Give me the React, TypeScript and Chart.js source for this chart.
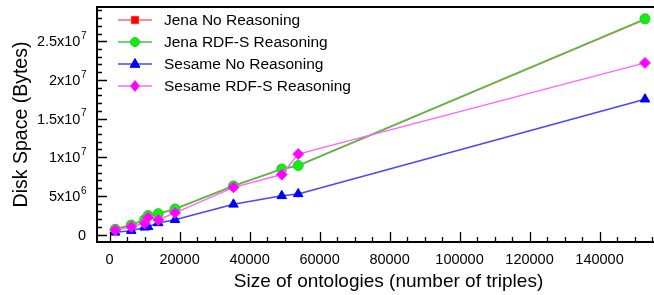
import { useEffect, useRef } from "react";
import { Chart, registerables } from "chart.js";

Chart.register(...registerables);

// ---- data ----
const xTriples = [1600, 6200, 10000, 11000, 13900, 18700, 35400, 49200, 53900, 153000];
const jenaNoReasoning = [0.7e6, 1.25e6, 1.95e6, 2.4e6, 2.65e6, 3.3e6, 6.3e6, 8.45e6, 8.9e6, 27.8e6];
const jenaRdfsReasoning = [0.68e6, 1.23e6, 1.9e6, 2.45e6, 2.7e6, 3.3e6, 6.28e6, 8.48e6, 8.92e6, 27.9e6];
const sesameNoReasoning = [0.28e6, 0.5e6, 0.93e6, 1.0e6, 1.5e6, 1.9e6, 3.9e6, 5.0e6, 5.25e6, 17.5e6];
const sesameRdfsReasoning = [0.58e6, 1.0e6, 1.45e6, 2.2e6, 1.9e6, 2.8e6, 6.1e6, 7.75e6, 10.4e6, 22.2e6];

const seriesNames = ["Jena No Reasoning", "Jena RDF-S Reasoning", "Sesame No Reasoning", "Sesame RDF-S Reasoning"];

const xTickValues = [0, 20000, 40000, 60000, 80000, 100000, 120000, 140000];
const yTickValues = [0, 5e6, 1e7, 1.5e7, 2e7, 2.5e7];
const yTickBases = ["0", "5x10", "1x10", "1.5x10", "2x10", "2.5x10"];
const yTickExps = ["", "6", "7", "7", "7", "7"];

const xTitle = "Size of ontologies (number of triples)";
const yTitle = "Disk Space (Bytes)";

const X_MIN = -3600;
const X_MAX = 163000;
const Y_MIN = -0.97e6;
const Y_MAX = 29.43e6;

const FONT = "'Liberation Sans', Arial, Helvetica, sans-serif";

const styles = [
  { line: "#ff6a6a", fill: "#ff0000", edge: "#ff3030", shape: "rect", r: 4.5 },
  { line: "#3ec83e", fill: "#11ee11", edge: "#22cc22", shape: "circle", r: 5 },
  { line: "#4646ff", fill: "#0000ff", edge: "#0000ee", shape: "triangle", r: 5.5 },
  { line: "#ff66ff", fill: "#ff00ff", edge: "#ff22ff", shape: "rectRot", r: 5.5 },
];

const seriesValues = [jenaNoReasoning, jenaRdfsReasoning, sesameNoReasoning, sesameRdfsReasoning];

const decorPlugin = {
  id: "decor",
  afterDraw(chart: any) {
    const { ctx, chartArea: a, scales } = chart;
    const xs = scales.x;
    const ys = scales.y;
    ctx.save();
    ctx.strokeStyle = "#000";
    // inward ticks
    ctx.lineWidth = 1.3;
    ctx.beginPath();
    for (let v = 0; v <= X_MAX; v += 5000) {
      const px = Math.round(xs.getPixelForValue(v)) + 0.5;
      if (px < a.left + 1 || px > a.right) continue;
      const len = v % 20000 === 0 ? 10 : 5;
      ctx.moveTo(px, a.bottom);
      ctx.lineTo(px, a.bottom - len);
    }
    for (let v = 0; v <= Y_MAX; v += 1e6) {
      const py = Math.round(ys.getPixelForValue(v)) + 0.5;
      if (py < a.top + 1 || py > a.bottom - 1) continue;
      const len = v % 5e6 === 0 ? 10 : 5;
      ctx.moveTo(a.left, py);
      ctx.lineTo(a.left + len, py);
    }
    ctx.stroke();
    // frame
    ctx.lineWidth = 2;
    ctx.strokeRect(a.left, a.top, a.right - a.left, a.bottom - a.top);

    // y tick labels with superscript exponents
    ctx.fillStyle = "#000";
    ctx.textBaseline = "middle";
    const rightX = 86;
    for (let i = 0; i < yTickValues.length; i++) {
      const py = ys.getPixelForValue(yTickValues[i]);
      const base = yTickBases[i];
      const exp = yTickExps[i];
      ctx.font = `10px ${FONT}`;
      const ew = exp ? ctx.measureText(exp).width : 0;
      ctx.font = `14.5px ${FONT}`;
      const bw = ctx.measureText(base).width;
      const startX = rightX - ew - bw;
      ctx.textAlign = "left";
      ctx.fillText(base, startX, py + 1);
      if (exp) {
        ctx.font = `10px ${FONT}`;
        ctx.fillText(exp, startX + bw + 0.5, py - 5);
      }
    }

    // legend
    const rowY = [20, 42, 64, 86];
    for (let i = 0; i < seriesNames.length; i++) {
      const st = styles[i];
      const y = rowY[i];
      ctx.strokeStyle = st.line;
      ctx.lineWidth = 1.5;
      ctx.beginPath();
      ctx.moveTo(118, y);
      ctx.lineTo(152, y);
      ctx.stroke();
      ctx.fillStyle = st.fill;
      ctx.strokeStyle = st.edge;
      ctx.lineWidth = 1;
      ctx.beginPath();
      const cx = 135;
      const r = st.r;
      if (st.shape === "rect") {
        ctx.rect(cx - r * 0.8, y - r * 0.8, r * 1.6, r * 1.6);
      } else if (st.shape === "circle") {
        ctx.arc(cx, y, r * 0.9, 0, Math.PI * 2);
      } else if (st.shape === "triangle") {
        ctx.moveTo(cx, y - r);
        ctx.lineTo(cx + r * 0.9, y + r * 0.6);
        ctx.lineTo(cx - r * 0.9, y + r * 0.6);
        ctx.closePath();
      } else {
        ctx.moveTo(cx, y - r);
        ctx.lineTo(cx + r * 0.8, y);
        ctx.lineTo(cx, y + r);
        ctx.lineTo(cx - r * 0.8, y);
        ctx.closePath();
      }
      ctx.fill();
      ctx.stroke();
      ctx.fillStyle = "#000";
      ctx.font = `15.5px ${FONT}`;
      ctx.textAlign = "left";
      ctx.textBaseline = "middle";
      ctx.fillText(seriesNames[i], 164, y + 1);
    }
    ctx.restore();
  },
};

export default function App() {
  const ref = useRef<HTMLCanvasElement>(null);
  useEffect(() => {
    const canvas = ref.current!;
    const datasets = seriesNames.map((name, i) => ({
      label: name,
      data: xTriples.map((x, j) => ({ x, y: seriesValues[i][j] })),
      borderColor: styles[i].line,
      backgroundColor: styles[i].fill,
      pointBackgroundColor: styles[i].fill,
      pointBorderColor: styles[i].edge,
      pointBorderWidth: 1,
      pointStyle: styles[i].shape as any,
      pointRadius: styles[i].r,
      borderWidth: 1.5,
      tension: 0,
      fill: false,
      order: 4 - i,
    }));
    const chart = new Chart(canvas, {
      type: "line",
      data: { datasets },
      plugins: [decorPlugin],
      options: {
        responsive: false,
        animation: false,
        devicePixelRatio: 1,
        layout: { autoPadding: false, padding: { top: 7, right: 0, bottom: 0, left: 0 } },
        plugins: { legend: { display: false }, tooltip: { enabled: false } },
        scales: {
          x: {
            type: "linear",
            min: X_MIN,
            max: X_MAX,
            afterBuildTicks: (s: any) => {
              s.ticks = xTickValues.map((v) => ({ value: v }));
            },
            afterFit: (s: any) => {
              s.height = 53;
              s.paddingLeft = 0;
              s.paddingRight = 0;
            },
            grid: { display: false, drawTicks: false },
            border: { display: false },
            ticks: {
              color: "#000",
              font: { family: FONT, size: 14.5 },
              padding: 9,
              maxRotation: 0,
              autoSkip: false,
              callback: (v: any) => String(v),
            },
            title: {
              display: true,
              text: xTitle,
              color: "#000",
              font: { family: FONT, size: 19 },
              padding: { top: 0, bottom: 2 },
            },
          },
          y: {
            type: "linear",
            min: Y_MIN,
            max: Y_MAX,
            afterBuildTicks: (s: any) => {
              s.ticks = yTickValues.map((v) => ({ value: v }));
            },
            afterFit: (s: any) => {
              s.width = 97;
            },
            grid: { display: false, drawTicks: false },
            border: { display: false },
            ticks: { display: false },
            title: {
              display: true,
              text: yTitle,
              color: "#000",
              font: { family: FONT, size: 19.5 },
              padding: { top: 10, bottom: 0 },
            },
          },
        },
      },
    });
    return () => chart.destroy();
  }, []);
  return (
    <div style={{ position: "absolute", left: 0, top: 0, width: 654, height: 295, overflow: "hidden", background: "#fff" }}>
      <canvas ref={ref} width={680} height={295} style={{ display: "block", width: 680, height: 295 }} />
    </div>
  );
}
